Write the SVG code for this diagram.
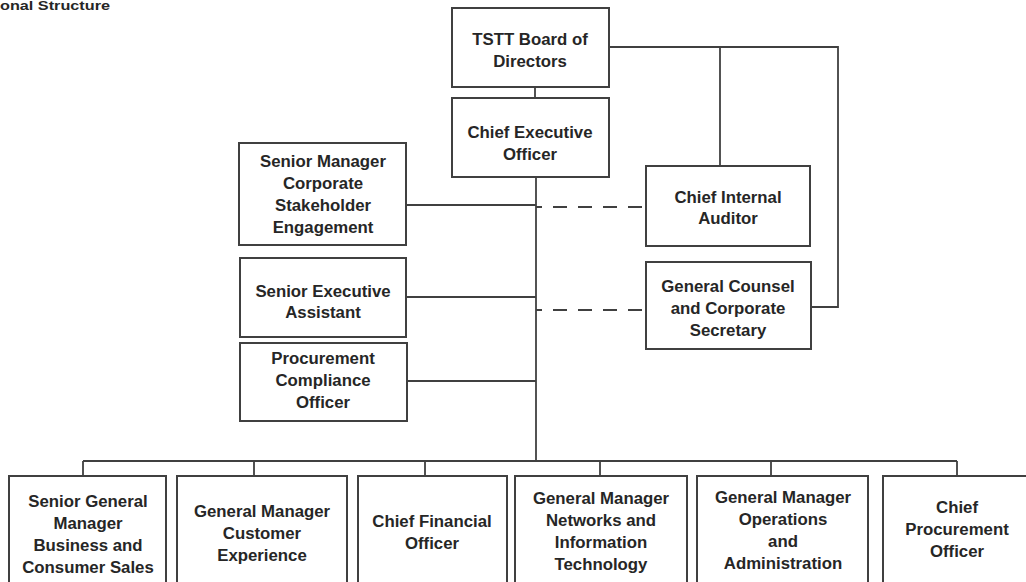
<svg xmlns="http://www.w3.org/2000/svg" width="1026" height="582" viewBox="0 0 1026 582">
<style>
.box{fill:#fff;stroke:#404040;stroke-width:2}
.t{font-family:"Liberation Sans",Arial,sans-serif;font-weight:bold;font-size:16.8px;fill:#262626;text-anchor:middle}
.ln{stroke:#404040;stroke-width:1.8;fill:none}
.dash{stroke:#404040;stroke-width:1.8;fill:none;stroke-dasharray:14 11;stroke-dashoffset:8}
</style>
<rect width="1026" height="582" fill="#fff"/>
<text x="0" y="10" style="font-family:'Liberation Sans',Arial,sans-serif;font-weight:bold;font-size:13.5px;fill:#262626" textLength="110" lengthAdjust="spacingAndGlyphs">onal Structure</text>
<g id="connectors">
<path class="ln" d="M535 87V98"/>
<path class="ln" d="M609 47H838V307H811"/>
<path class="ln" d="M720 47V166"/>
<path class="ln" d="M536 177V461"/>
<path class="ln" d="M406 205H536"/>
<path class="ln" d="M406 297H536"/>
<path class="ln" d="M407 381H536"/>
<path class="dash" d="M536 207H646"/>
<path class="dash" d="M536 310H646"/>
<path class="ln" d="M83 461H957"/>
<path class="ln" d="M83 461V476M254 461V476M425 461V476M600 461V476M771 461V476M957 461V476"/>
</g>
<g id="board"><rect class="box" x="452" y="8" width="157" height="79"/><text class="t" x="530" y="45">TSTT Board of</text><text class="t" x="530" y="67">Directors</text></g>
<g id="ceo"><rect class="box" x="452" y="98" width="157" height="79"/><text class="t" x="530" y="138">Chief Executive</text><text class="t" x="530" y="160">Officer</text></g>
<g id="smcse"><rect class="box" x="239" y="143" width="167" height="102"/><text class="t" x="323" y="167">Senior Manager</text><text class="t" x="323" y="189">Corporate</text><text class="t" x="323" y="211">Stakeholder</text><text class="t" x="323" y="233">Engagement</text></g>
<g id="sea"><rect class="box" x="240" y="258" width="166" height="79"/><text class="t" x="323" y="297">Senior Executive</text><text class="t" x="323" y="318">Assistant</text></g>
<g id="pco"><rect class="box" x="240" y="343" width="167" height="78"/><text class="t" x="323" y="364">Procurement</text><text class="t" x="323" y="386">Compliance</text><text class="t" x="323" y="408">Officer</text></g>
<g id="cia"><rect class="box" x="646" y="166" width="164" height="80"/><text class="t" x="728" y="203">Chief Internal</text><text class="t" x="728" y="224">Auditor</text></g>
<g id="gc"><rect class="box" x="646" y="262" width="165" height="87"/><text class="t" x="728" y="292">General Counsel</text><text class="t" x="728" y="314">and Corporate</text><text class="t" x="728" y="336">Secretary</text></g>
<g id="sgm"><rect class="box" x="9" y="476" width="157" height="130"/><text class="t" x="88" y="507">Senior General</text><text class="t" x="88" y="529">Manager</text><text class="t" x="88" y="551">Business and</text><text class="t" x="88" y="573">Consumer Sales</text></g>
<g id="gmce"><rect class="box" x="177" y="476" width="170" height="130"/><text class="t" x="262" y="517">General Manager</text><text class="t" x="262" y="539">Customer</text><text class="t" x="262" y="561">Experience</text></g>
<g id="cfo"><rect class="box" x="358" y="476" width="149" height="130"/><text class="t" x="432" y="527">Chief Financial</text><text class="t" x="432" y="549">Officer</text></g>
<g id="gmnit"><rect class="box" x="515" y="476" width="172" height="130"/><text class="t" x="601" y="504">General Manager</text><text class="t" x="601" y="526">Networks and</text><text class="t" x="601" y="548">Information</text><text class="t" x="601" y="570">Technology</text></g>
<g id="gmoa"><rect class="box" x="697" y="476" width="171" height="130"/><text class="t" x="783" y="503">General Manager</text><text class="t" x="783" y="525">Operations</text><text class="t" x="783" y="547">and</text><text class="t" x="783" y="569">Administration</text></g>
<g id="cpo"><rect class="box" x="883" y="476" width="160" height="130"/><text class="t" x="957" y="513">Chief</text><text class="t" x="957" y="535">Procurement</text><text class="t" x="957" y="557">Officer</text></g>
</svg>
